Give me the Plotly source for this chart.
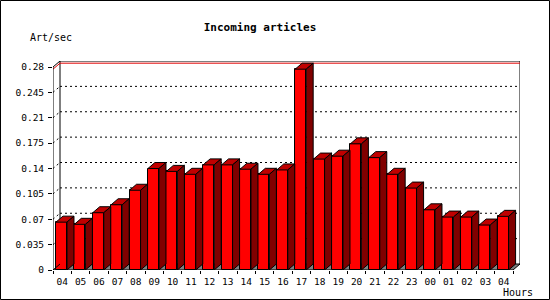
import plotly.graph_objects as go

# ---- data ----
hours = ["04", "05", "06", "07", "08", "09", "10", "11", "12", "13", "14", "15", "16",
         "17", "18", "19", "20", "21", "22", "23", "00", "01", "02", "03", "04"]
rates = [0.066, 0.063, 0.079, 0.090, 0.110, 0.140, 0.136, 0.132, 0.145, 0.145, 0.139, 0.132,
         0.138, 0.277, 0.153, 0.157, 0.174, 0.155, 0.132, 0.113, 0.083, 0.073, 0.073, 0.062, 0.074]
y_tick_vals = [0, 0.035, 0.07, 0.105, 0.14, 0.175, 0.21, 0.245, 0.28]
y_tick_text = ["0", "0.035", "0.07", "0.105", "0.14", "0.175", "0.21", "0.245", "0.28"]
title_text = "Incoming articles"
y_title = "Art/sec"
x_title = "Hours"

# ---- geometry ----
W, H = 550, 300
L, R, T, B = 53, 30, 61, 30
plot_w = W - L - R
plot_h = H - T - B
n = len(hours)
Y_MAX = 0.28
DX_PX, DY_PX = 7, 6
x_unit_px = (plot_w - DX_PX) / n
y_unit_px = (plot_h - DY_PX) / Y_MAX
dxu = DX_PX / x_unit_px
dyu = DY_PX / y_unit_px
x_range = [-0.5, n - 0.5 + dxu]
y_range = [0, Y_MAX + dyu]

BAR_OFFSET = -0.34
BAR_WIDTH = 0.6

FONT = "DejaVu Sans Mono"
FRONT = "#ff0000"
TOP = "#c00000"
SIDE = "#800000"


def px_to_paper_x(px):
    return (px - L) / plot_w


def px_to_paper_y(py):
    return (H - B - py) / plot_h


idx = list(range(n))
fig = go.Figure()

# front faces
fig.add_trace(go.Bar(
    x=idx, y=rates, width=BAR_WIDTH, offset=BAR_OFFSET,
    marker=dict(color=FRONT, line=dict(color="black", width=1)),
    hoverinfo="skip", showlegend=False,
))

# top and side faces
top_x, top_y, side_x, side_y = [], [], [], []
for i, v in zip(idx, rates):
    x0 = i + BAR_OFFSET
    x1 = x0 + BAR_WIDTH
    top_x += [x0, x1, x1 + dxu, x0 + dxu, x0, None]
    top_y += [v, v, v + dyu, v + dyu, v, None]
    side_x += [x1, x1 + dxu, x1 + dxu, x1, x1, None]
    side_y += [0, dyu, v + dyu, v, 0, None]

fig.add_trace(go.Scatter(x=top_x, y=top_y, mode="lines", fill="toself", fillcolor=TOP,
                         line=dict(color="black", width=1), hoverinfo="skip", showlegend=False))
fig.add_trace(go.Scatter(x=side_x, y=side_y, mode="lines", fill="toself", fillcolor=SIDE,
                         line=dict(color="black", width=1), hoverinfo="skip", showlegend=False))

shapes = []
xl, xr_ = -0.5, n - 0.5
# floor
shapes.append(dict(type="path", xref="x", yref="y", layer="below",
                   path=f"M{xl},0 L{xr_},0 L{xr_ + dxu},{dyu} L{xl + dxu},{dyu} Z",
                   fillcolor="#808080", line=dict(width=0)))
# back wall
shapes.append(dict(type="rect", xref="x", yref="y", layer="below",
                   x0=xl + dxu, x1=xr_ + dxu, y0=dyu, y1=Y_MAX + dyu,
                   fillcolor="white", line=dict(color="black", width=1)))
# dotted grid on back wall and left wall
for v in y_tick_vals[1:-1]:
    shapes.append(dict(type="line", xref="x", yref="y", layer="below",
                       x0=xl + dxu, x1=xr_ + dxu, y0=v + dyu, y1=v + dyu,
                       line=dict(color="black", width=1, dash="2px,3px")))
    shapes.append(dict(type="line", xref="x", yref="y", layer="below",
                       x0=xl, x1=xl + dxu, y0=v, y1=v + dyu,
                       line=dict(color="black", width=1, dash="2px,3px")))
# max line
vmax = max(rates)
shapes.append(dict(type="line", xref="x", yref="y", layer="below",
                   x0=xl + dxu, x1=xr_ + dxu, y0=vmax + dyu, y1=vmax + dyu,
                   line=dict(color="#e00000", width=1)))
shapes.append(dict(type="line", xref="x", yref="y", layer="below",
                   x0=xl, x1=xl + dxu, y0=vmax, y1=vmax + dyu,
                   line=dict(color="#e00000", width=1)))
# front frame lines
for (x0, y0, x1, y1) in [(xl, 0, xr_, 0), (xl, 0, xl, Y_MAX),
                         (xl, Y_MAX, xl + dxu, Y_MAX + dyu),
                         (xr_, 0, xr_ + dxu, dyu), (xl, 0, xl + dxu, dyu)]:
    shapes.append(dict(type="line", xref="x", yref="y", layer="above",
                       x0=x0, x1=x1, y0=y0, y1=y1, line=dict(color="black", width=1)))
# outer border
shapes.append(dict(type="rect", xref="paper", yref="paper",
                   x0=px_to_paper_x(0.5), x1=px_to_paper_x(W - 0.5),
                   y0=px_to_paper_y(H - 0.5), y1=px_to_paper_y(0.5),
                   line=dict(color="black", width=1), fillcolor="rgba(0,0,0,0)"))

annotations = [
    dict(text=y_title, xref="paper", yref="paper", x=px_to_paper_x(28), y=px_to_paper_y(37),
         xanchor="left", yanchor="middle", showarrow=False,
         font=dict(family=FONT, size=10, color="black")),
    dict(text=x_title, xref="paper", yref="paper", x=px_to_paper_x(535), y=px_to_paper_y(292),
         xanchor="right", yanchor="middle", showarrow=False,
         font=dict(family=FONT, size=10, color="black")),
]

tick_font = dict(family=FONT, size=9.5, color="black")

fig.update_layout(
    width=W, height=H,
    margin=dict(l=L, r=R, t=T, b=B, pad=0),
    paper_bgcolor="white", plot_bgcolor="white",
    title=dict(text=title_text, x=260 / W, xref="container", xanchor="center",
               y=1 - 27 / H, yref="container", yanchor="middle",
               font=dict(family=FONT, size=11, color="black", weight="bold")),
    xaxis=dict(range=x_range, tickvals=idx, ticktext=hours, ticks="", showgrid=False,
               zeroline=False, showline=False, tickfont=tick_font, fixedrange=True,
               ticklabelstandoff=4),
    xaxis2=dict(range=x_range, overlaying="x", anchor="y", side="bottom",
                tickvals=[i - 0.5 for i in range(n + 1)], ticks="outside", ticklen=3,
                tickcolor="black", showticklabels=False, showgrid=False, zeroline=False,
                showline=False),
    yaxis=dict(range=y_range, tickvals=y_tick_vals, ticktext=y_tick_text, ticks="outside",
               ticklen=4, tickcolor="black", showgrid=False, zeroline=False, showline=False,
               tickfont=tick_font, fixedrange=True, ticklabelstandoff=2),
    shapes=shapes,
    annotations=annotations,
    bargap=0,
)

# invisible trace to activate xaxis2 ticks
fig.add_trace(go.Scatter(x=[0], y=[0], xaxis="x2", mode="markers", marker=dict(opacity=0),
                         hoverinfo="skip", showlegend=False))

fig.write_html("out.html")
